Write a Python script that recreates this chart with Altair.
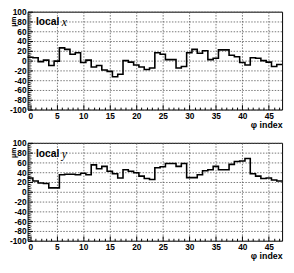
import altair as alt
import pandas as pd

# ---- data ----
phi_index = list(range(48))
local_x = [7, 6, -2, 1, -10, -1, 26, 23, 13, 16, -4, 1, -13, -10, -19, -22, -33, -28,
           0, -3, -9, -13, -18, -15, 16, 13, 2, 2, -15, -12, 16, 23, 15, 20, 2, 5,
           22, 22, 11, 8, -4, -9, 6, 5, 0, -3, -12, -8]
local_y = [28, 22, 18, 17, 8, 8, 35, 36, 36, 35, 38, 35, 55, 47, 52, 42, 37, 28,
           45, 42, 39, 32, 27, 25, 49, 51, 58, 58, 52, 58, 29, 29, 35, 43, 45, 52,
           45, 45, 56, 62, 63, 68, 37, 32, 27, 28, 24, 22]
x_major = [0, 5, 10, 15, 20, 25, 30, 35, 40, 45]
x_minor = [i for i in range(48) if i % 5]
y_major = list(range(-100, 101, 20))
y_minor = [v for v in range(-100, 101, 4) if v % 20]
titles = [("local", "x"), ("local", "y")]

FONT = "Liberation Sans"
W, H = 260, 100


def step_table(vals):
    edges = [i - 0.5 for i in phi_index] + [phi_index[-1] + 0.5]
    return pd.DataFrame({"edge": edges, "val": list(vals) + [vals[-1]]})


def panel(vals, word, letter):
    df = step_table(vals)
    xs = alt.Scale(domain=[-0.5, 47.5], nice=False, zero=False)
    ys = alt.Scale(domain=[-100, 100], nice=False, zero=False)
    base = alt.Chart(df)

    main = base.mark_line(interpolate="step-after", color="black", strokeWidth=1.6).encode(
        x=alt.X("edge:Q", scale=xs, axis=alt.Axis(
            orient="bottom", values=x_major, grid=True, gridColor="#555",
            gridDash=[1.5, 1.5], gridWidth=0.8, ticks=False, tickSize=0, domain=False,
            labelFont=FONT, labelFontSize=8.5, labelFontWeight="bold", labelPadding=2,
            labelColor="black", title="φ index", titleFont=FONT, titleFontSize=9,
            titleFontWeight="bold", titleAnchor="end", titleAlign="right",
            titlePadding=1, titleColor="black")),
        y=alt.Y("val:Q", scale=ys, axis=alt.Axis(
            orient="left", values=y_major, grid=True, gridColor="#555",
            gridDash=[1.5, 1.5], gridWidth=0.8, ticks=False, tickSize=0, domain=False,
            labelExpr="'' + datum.value",
            labelFont=FONT, labelFontSize=8.5, labelFontWeight="bold", labelPadding=1.5,
            labelColor="black", title="μm", titleFont=FONT, titleFontSize=7,
            titleFontWeight="bold", titleAngle=270, titleAlign="left",
            titleBaseline="alphabetic", titleX=-12, titleY=15, titleColor="black")),
    )

    def tick_layer(xv, yv, size):
        return base.mark_line(opacity=0).encode(
            x=alt.X("edge:Q", scale=xs, axis=alt.Axis(
                orient="bottom", values=xv, offset=-size, tickSize=size, ticks=True,
                tickColor="black", labels=False, grid=False, domain=False, title=None)),
            y=alt.Y("val:Q", scale=ys, axis=alt.Axis(
                orient="left", values=yv, offset=-size, tickSize=size, ticks=True,
                tickColor="black", labels=False, grid=False, domain=False, title=None)),
        )

    tdf = pd.DataFrame({"word": [word], "letter": [letter]})
    label_word = alt.Chart(tdf).mark_text(
        font=FONT, fontSize=10.5, fontWeight="bold", align="left",
        baseline="middle", color="black").encode(
        text="word:N", x=alt.value(8.5), y=alt.value(11))
    label_letter = alt.Chart(tdf).mark_text(
        font="Liberation Serif", fontSize=12, fontStyle="italic",
        align="left", baseline="middle", color="black").encode(
        text="letter:N", x=alt.value(35), y=alt.value(11))

    return alt.layer(
        main, tick_layer(x_major, y_major, 5), tick_layer(x_minor, y_minor, 2.5),
        label_word, label_letter,
    ).resolve_axis(x="independent", y="independent").properties(width=W, height=H)


chart = alt.vconcat(
    panel(local_x, *titles[0]),
    panel(local_y, *titles[1]),
    spacing=34, bounds="flush",
).configure_view(stroke="black", strokeWidth=1).properties(
    padding={"top": -4, "left": 0, "right": 0, "bottom": 0}
)

chart.save("out.html", embed_options={"renderer": "svg", "actions": False})
